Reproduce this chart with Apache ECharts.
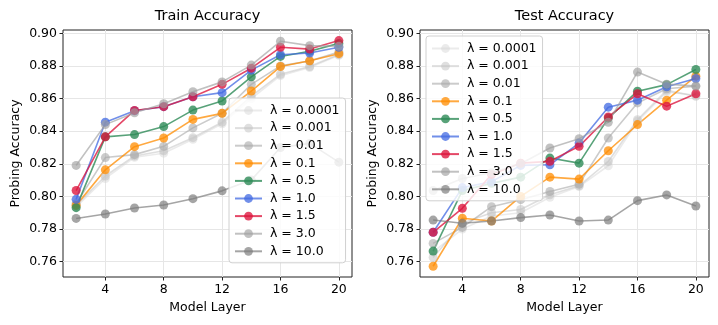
<!DOCTYPE html>
<html>
<head>
<meta charset="utf-8">
<script src="https://cdn.jsdelivr.net/npm/echarts@6/dist/echarts.min.js"></script>
<style>
html,body{margin:0;padding:0;background:#fff;}
#chart{width:718px;height:325px;}
</style>
</head>
<body>
<div id="chart"></div>
<script>
// ---- data ----
const layers = [2, 4, 6, 8, 10, 12, 14, 16, 18, 20];
const lambdaNames = ['λ = 0.0001', 'λ = 0.001', 'λ = 0.01', 'λ = 0.1', 'λ = 0.5', 'λ = 1.0', 'λ = 1.5', 'λ = 3.0', 'λ = 10.0'];
const xTicks = [4, 8, 12, 16, 20];
const yTicks = [0.76, 0.78, 0.80, 0.82, 0.84, 0.86, 0.88, 0.90];

const train_l0001 = [0.7935, 0.8110, 0.8240, 0.8265, 0.8350, 0.8445, 0.8600, 0.8740, 0.8790, 0.8865];
const train_l001  = [0.7945, 0.8125, 0.8248, 0.8280, 0.8360, 0.8455, 0.8615, 0.8749, 0.8796, 0.8870];
const train_l01   = [0.7955, 0.8238, 0.8256, 0.8307, 0.8420, 0.8510, 0.8687, 0.8800, 0.8830, 0.8885];
const train_l1    = [0.7945, 0.8163, 0.8305, 0.8358, 0.8472, 0.8509, 0.8646, 0.8796, 0.8831, 0.8875];
const train_l5    = [0.7931, 0.8365, 0.8379, 0.8428, 0.8529, 0.8585, 0.8733, 0.8858, 0.8890, 0.8938];
const train_l10   = [0.7982, 0.8455, 0.8525, 0.8550, 0.8611, 0.8636, 0.8774, 0.8868, 0.8879, 0.8914];
const train_l15   = [0.8036, 0.8365, 0.8527, 0.8550, 0.8611, 0.8687, 0.8786, 0.8914, 0.8903, 0.8955];
const train_l30   = [0.8190, 0.8440, 0.8513, 0.8568, 0.8642, 0.8702, 0.8805, 0.8951, 0.8924, 0.8920];
const train_l100  = [0.7865, 0.7892, 0.7929, 0.7947, 0.7986, 0.8034, 0.8100, 0.8300, 0.8325, 0.8210];

const test_l0001 = [0.7660, 0.7800, 0.7880, 0.7900, 0.7995, 0.8060, 0.8188, 0.8460, 0.8640, 0.8620];
const test_l001  = [0.7626, 0.7835, 0.7900, 0.7920, 0.8010, 0.8065, 0.8214, 0.8470, 0.8650, 0.8614];
const test_l01   = [0.7712, 0.7810, 0.7937, 0.7980, 0.8030, 0.8075, 0.8358, 0.8573, 0.8660, 0.8676];
const test_l1    = [0.7572, 0.7866, 0.7849, 0.8000, 0.8118, 0.8106, 0.8280, 0.8440, 0.8590, 0.8737];
const test_l5    = [0.7665, 0.8036, 0.8080, 0.8118, 0.8235, 0.8204, 0.8480, 0.8645, 0.8685, 0.8778];
const test_l10   = [0.7780, 0.8054, 0.8090, 0.8190, 0.8194, 0.8327, 0.8547, 0.8590, 0.8672, 0.8723];
const test_l15   = [0.7780, 0.7927, 0.8135, 0.8204, 0.8215, 0.8307, 0.8487, 0.8629, 0.8553, 0.8629];
const test_l30   = [0.8036, 0.8110, 0.8145, 0.8200, 0.8297, 0.8354, 0.8454, 0.8762, 0.8688, 0.8676];
const test_l100  = [0.7855, 0.7835, 0.7849, 0.7870, 0.7886, 0.7849, 0.7855, 0.7974, 0.8009, 0.7941];

const trainSeries = [train_l0001, train_l001, train_l01, train_l1, train_l5, train_l10, train_l15, train_l30, train_l100];
const testSeries  = [test_l0001, test_l001, test_l01, test_l1, test_l5, test_l10, test_l15, test_l30, test_l100];

// ---- styles ----
const colors = ['#d3d3d3', '#c0c0c0', '#a8a8a8', '#ff8c00', '#2e8b57', '#4169e1', '#dc143c', '#a0a0a0', '#7a7a7a'];
const opac   = [0.45, 0.5, 0.6, 0.75, 0.8, 0.75, 0.78, 0.65, 0.68];
const FONT = 'DejaVu Sans';

function mkSeries(arrs, idx) {
  return arrs.map((vals, i) => ({
    name: lambdaNames[i],
    type: 'line',
    xAxisIndex: idx, yAxisIndex: idx,
    data: layers.map((x, k) => [x, vals[k]]),
    symbol: 'circle', symbolSize: 9, showSymbol: true,
    lineStyle: { color: colors[i], width: 1.6, opacity: opac[i] },
    itemStyle: { color: colors[i], opacity: opac[i], borderWidth: 0 },
    emphasis: { disabled: true },
    z: 2
  }));
}

function mkX(idx) {
  return {
    gridIndex: idx, type: 'value', min: 1.1, max: 20.9,
    name: 'Model Layer', nameLocation: 'middle', nameGap: 24,
    nameTextStyle: { fontFamily: FONT, fontSize: 12.5, color: '#000' },
    axisLine: { show: false },
    axisTick: { show: true, length: 3.5, customValues: xTicks, lineStyle: { color: '#222' } },
    axisLabel: { customValues: xTicks, margin: 6, fontFamily: FONT, fontSize: 12.5, color: '#000' },
    splitLine: { show: true, lineStyle: { color: '#e6e6e6', width: 1 } }
  };
}
function mkY(idx) {
  return {
    gridIndex: idx, type: 'value', min: 0.7506, max: 0.902,
    name: 'Probing Accuracy', nameLocation: 'middle', nameGap: 41,
    nameTextStyle: { fontFamily: FONT, fontSize: 12.5, color: '#000' },
    axisLine: { show: false },
    axisTick: { show: true, length: 3.5, customValues: yTicks, lineStyle: { color: '#222' } },
    axisLabel: { customValues: yTicks, margin: 6, fontFamily: FONT, fontSize: 12.5, color: '#000',
                 formatter: v => v.toFixed(2) },
    splitLine: { show: true, lineStyle: { color: '#e6e6e6', width: 1 } }
  };
}
function mkLegend(left, top) {
  return {
    data: lambdaNames, orient: 'vertical', left: left, top: top,
    itemWidth: 27, itemHeight: 11, itemGap: 4.6,
    padding: [6, 6, 5, 5],
    backgroundColor: 'rgba(255,255,255,0.82)', borderColor: '#d0d0d0', borderWidth: 1, borderRadius: 3,
    textStyle: { fontFamily: FONT, fontSize: 12.5, color: '#000', lineHeight: 11, padding: [0, 0, 0, 3] },
    selectedMode: false, z: 10
  };
}

const chart = echarts.init(document.getElementById('chart'), null, { renderer: 'canvas' });
chart.setOption({
  animation: false,
  backgroundColor: '#fff',
  title: [
    { text: 'Train Accuracy', left: 207.5, top: 9, textAlign: 'center', padding: 0,
      textStyle: { fontFamily: FONT, fontSize: 14.5, fontWeight: 'normal', color: '#000' } },
    { text: 'Test Accuracy', left: 564.5, top: 9, textAlign: 'center', padding: 0,
      textStyle: { fontFamily: FONT, fontSize: 14.5, fontWeight: 'normal', color: '#000' } }
  ],
  grid: [
    { left: 63, top: 30, width: 289, height: 247, show: true, borderColor: '#222', borderWidth: 1, backgroundColor: 'transparent' },
    { left: 420, top: 30, width: 289, height: 247, show: true, borderColor: '#222', borderWidth: 1, backgroundColor: 'transparent' }
  ],
  xAxis: [mkX(0), mkX(1)],
  yAxis: [mkY(0), mkY(1)],
  legend: [mkLegend(229, 98), mkLegend(426, 36)],
  series: mkSeries(trainSeries, 0).concat(mkSeries(testSeries, 1))
});
</script>
</body>
</html>
